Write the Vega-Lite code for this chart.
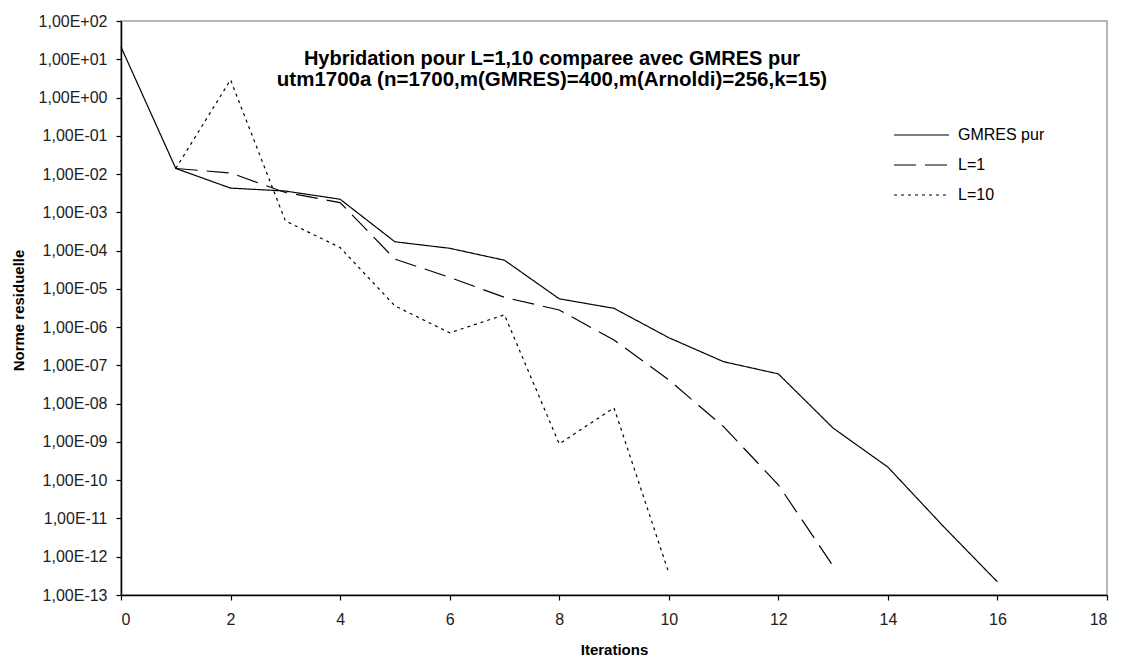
{
  "$schema": "https://vega.github.io/schema/vega-lite/v6.json",
  "width": 986,
  "height": 574,
  "autosize": "none",
  "padding": {"left": 121, "top": 21, "right": 15, "bottom": 62},
  "background": "white",
  "config": {
    "font": "Liberation Sans",
    "view": {"stroke": "#a0a0a0", "strokeWidth": 1.5}
  },
  "title": {
    "text": "Hybridation pour L=1,10 comparee avec GMRES pur",
    "subtitle": "utm1700a  (n=1700,m(GMRES)=400,m(Arnoldi)=256,k=15)",
    "anchor": "middle",
    "frame": "group",
    "offset": -77,
    "dx": -62,
    "font": "Liberation Sans",
    "fontSize": 20,
    "fontWeight": "bold",
    "color": "black",
    "subtitleFont": "Liberation Sans",
    "subtitleFontSize": 20.5,
    "subtitleFontWeight": "bold",
    "subtitleColor": "black",
    "subtitlePadding": 1
  },
  "data": {
    "values": [
      {"it": 0, "series": "GMRES pur", "v": 21},
      {"it": 1, "series": "GMRES pur", "v": 0.014},
      {"it": 2, "series": "GMRES pur", "v": 0.0043},
      {"it": 3, "series": "GMRES pur", "v": 0.0036},
      {"it": 4, "series": "GMRES pur", "v": 0.0022},
      {"it": 5, "series": "GMRES pur", "v": 0.00017},
      {"it": 6, "series": "GMRES pur", "v": 0.000115},
      {"it": 7, "series": "GMRES pur", "v": 0.000056},
      {"it": 8, "series": "GMRES pur", "v": 0.0000055},
      {"it": 9, "series": "GMRES pur", "v": 0.0000031},
      {"it": 10, "series": "GMRES pur", "v": 5.3e-7},
      {"it": 11, "series": "GMRES pur", "v": 1.25e-7},
      {"it": 12, "series": "GMRES pur", "v": 6.0e-8},
      {"it": 13, "series": "GMRES pur", "v": 2.3e-9},
      {"it": 14, "series": "GMRES pur", "v": 2.2e-10},
      {"it": 15, "series": "GMRES pur", "v": 6.5e-12},
      {"it": 16, "series": "GMRES pur", "v": 2.2e-13},
      {"it": 1, "series": "L=1", "v": 0.014},
      {"it": 2, "series": "L=1", "v": 0.0107},
      {"it": 3, "series": "L=1", "v": 0.0033},
      {"it": 4, "series": "L=1", "v": 0.0018},
      {"it": 5, "series": "L=1", "v": 0.00006},
      {"it": 6, "series": "L=1", "v": 0.00002},
      {"it": 7, "series": "L=1", "v": 0.000006},
      {"it": 8, "series": "L=1", "v": 0.0000028},
      {"it": 9, "series": "L=1", "v": 4.6e-7},
      {"it": 10, "series": "L=1", "v": 4.2e-8},
      {"it": 11, "series": "L=1", "v": 2.5e-9},
      {"it": 12, "series": "L=1", "v": 7.6e-11},
      {"it": 13, "series": "L=1", "v": 5.7e-13},
      {"it": 1, "series": "L=10", "v": 0.014},
      {"it": 2, "series": "L=10", "v": 2.9},
      {"it": 3, "series": "L=10", "v": 0.0006},
      {"it": 4, "series": "L=10", "v": 0.00012},
      {"it": 5, "series": "L=10", "v": 0.0000036},
      {"it": 6, "series": "L=10", "v": 7.1e-7},
      {"it": 7, "series": "L=10", "v": 2.1e-6},
      {"it": 8, "series": "L=10", "v": 8.9e-10},
      {"it": 9, "series": "L=10", "v": 7.8e-9},
      {"it": 10, "series": "L=10", "v": 3.8e-13}
    ]
  },
  "mark": {"type": "line", "color": "black", "strokeWidth": 1.2},
  "encoding": {
    "x": {
      "field": "it",
      "type": "quantitative",
      "scale": {"domain": [0, 18], "nice": false, "zero": false},
      "axis": {
        "title": "Iterations",
        "values": [0, 2, 4, 6, 8, 10, 12, 14, 16, 18],
        "grid": false,
        "domainColor": "black",
        "domainWidth": 1.5,
        "tickColor": "black",
        "tickSize": 5,
        "tickWidth": 1.2,
        "labelFont": "Liberation Sans",
        "labelFontSize": 16,
        "labelColor": "#222",
        "labelPadding": 11,
        "titleFont": "Liberation Sans",
        "titleFontSize": 15,
        "titleFontWeight": "bold",
        "titleColor": "black",
        "titleBaseline": "middle",
        "titleY": 54
      }
    },
    "y": {
      "field": "v",
      "type": "quantitative",
      "scale": {"type": "log", "domain": [1e-13, 100], "nice": false},
      "axis": {
        "title": "Norme residuelle",
        "values": [1e-13, 1e-12, 1e-11, 1e-10, 1e-9, 1e-8, 1e-7, 1e-6, 1e-5, 1e-4, 1e-3, 1e-2, 1e-1, 1, 10, 100],
        "labelExpr": "'1,00E' + (round(log(datum.value)/LN10) >= 0 ? '+' : '-') + pad(toString(abs(round(log(datum.value)/LN10))), 2, '0', 'left')",
        "grid": false,
        "domainColor": "black",
        "domainWidth": 1.5,
        "tickColor": "black",
        "tickSize": 5,
        "tickWidth": 1.2,
        "labelFont": "Liberation Sans",
        "labelFontSize": 16,
        "labelColor": "#222",
        "labelPadding": 9,
        "titleFont": "Liberation Sans",
        "titleFontSize": 15,
        "titleFontWeight": "bold",
        "titleColor": "black",
        "titleAngle": 270,
        "titleAlign": "center",
        "titleBaseline": "middle",
        "titleX": -103,
        "titleY": 289
      }
    },
    "strokeDash": {
      "field": "series",
      "type": "nominal",
      "scale": {"domain": ["GMRES pur", "L=1", "L=10"], "range": [[1, 0], [22, 9], [3, 4]]},
      "legend": {
        "title": null,
        "orient": "none",
        "legendX": 772,
        "legendY": 106,
        "symbolType": "stroke",
        "symbolSize": 3025,
        "symbolStrokeWidth": 1.2,
        "symbolStrokeColor": "black",
        "clipHeight": 16,
        "labelFont": "Liberation Sans",
        "labelFontSize": 16,
        "labelColor": "black",
        "labelOffset": 8,
        "rowPadding": 14
      }
    }
  }
}
